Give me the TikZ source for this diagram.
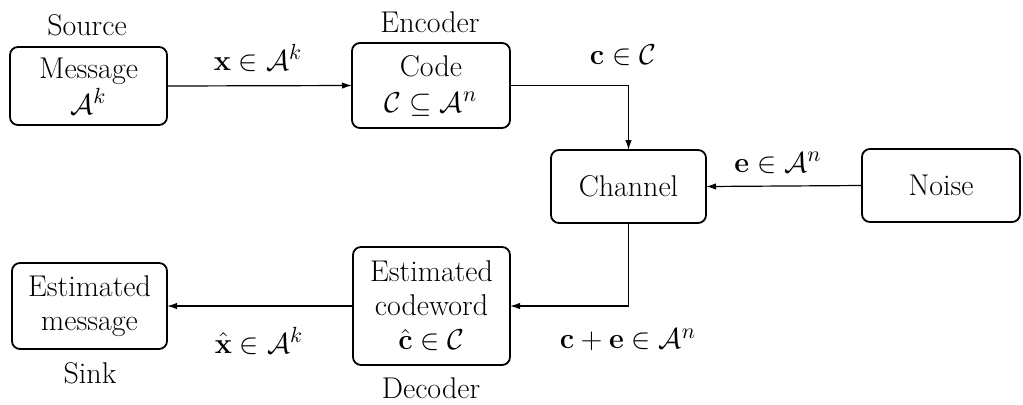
\documentclass[tikz,border=0pt]{standalone}
\usetikzlibrary{arrows.meta}
\begin{document}
\begin{tikzpicture}[x=0.5pt,y=-0.5pt,
  box/.style={draw, line width=0.9pt, rounded corners=4pt, align=center, inner sep=0pt, outer sep=0pt,
    font=\fontsize{15}{17}\selectfont},
  lbl/.style={inner sep=0pt, font=\fontsize{15}{17}\selectfont},
  conn/.style={line width=0.6pt, -{Latex[length=5pt,width=3.2pt]}}]
\useasboundingbox (0,0) rectangle (1023,404);
% boxes
\node[box, minimum width=78.5pt, minimum height=39pt] (msg) at (88.5,86) {Message\\[1pt]$\mathcal{A}^k$};
\node[box, minimum width=79pt, minimum height=42.5pt] (code) at (431,85.5) {Code\\[1pt]$\mathcal{C}\subseteq\mathcal{A}^n$};
\node[box, minimum width=77.5pt, minimum height=36.5pt] (chan) at (628.5,186.5) {Channel};
\node[box, minimum width=79pt, minimum height=36.5pt] (noise) at (941,185.5) {Noise};
\node[box, minimum width=78.5pt, minimum height=59pt] (dec) at (431.5,306) {Estimated\\codeword\\$\hat{\mathbf{c}}\in\mathcal{C}$};
\node[box, minimum width=77.5pt, minimum height=43pt] (est) at (89.5,306) {Estimated\\message};
% captions
\node[lbl] (src) at (87,25) {Source};
\node[lbl] (enc) at (430,22) {Encoder};
\node[lbl] (sink) at (90,373) {Sink};
\node[lbl] (decl) at (431,388) {Decoder};
% connector labels
\node[lbl] (lx) at (258,58) {$\mathbf{x}\in\mathcal{A}^k$};
\node[lbl] (lc) at (623,55) {$\mathbf{c}\in\mathcal{C}$};
\node[lbl] (le) at (778,163) {$\mathbf{e}\in\mathcal{A}^n$};
\node[lbl] (lce) at (628,340) {$\mathbf{c}+\mathbf{e}\in\mathcal{A}^n$};
\node[lbl] (lxh) at (259,341) {$\hat{\mathbf{x}}\in\mathcal{A}^k$};
% connectors
\draw[conn] (msg.east) -- (code.west);
\draw[conn] (code.east) -| (chan.north);
\draw[conn] (noise.west) -- (chan.east);
\draw[conn] (chan.south) |- (dec.east);
\draw[conn] (dec.west) -- (est.east);
\end{tikzpicture}
\end{document}
